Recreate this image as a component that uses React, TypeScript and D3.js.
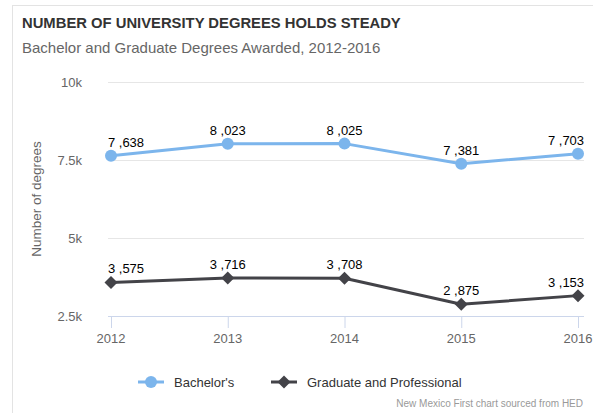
import React from "react";
import * as d3 from "d3";

const years = ["2012", "2013", "2014", "2015", "2016"];
const bachelors = [7638, 8023, 8025, 7381, 7703];
const graduate = [3575, 3716, 3708, 2875, 3153];
const bachelorLabels = ["7 ,638", "8 ,023", "8 ,025", "7 ,381", "7 ,703"];
const graduateLabels = ["3 ,575", "3 ,716", "3 ,708", "2 ,875", "3 ,153"];
const yTicks = [2500, 5000, 7500, 10000];
const yTickLabels = ["2.5k", "5k", "7.5k", "10k"];

const W = 593;
const H = 413;
const plotLeft = 108;
const plotRight = 584;
const plotTop = 82;
const plotBottom = 316;
const FONT = "'Liberation Sans', Arial, Helvetica, sans-serif";

export default function App() {
  const x = d3.scalePoint<string>().domain(years).range([111, 578]);
  const y = d3.scaleLinear().domain([2500, 10000]).range([plotBottom, plotTop]);
  const line = d3
    .line<number>()
    .x((_, i) => x(years[i]) as number)
    .y((d) => y(d));

  const clampLabel = (cx: number, w: number) =>
    Math.min(Math.max(cx, plotLeft + w / 2), plotRight - w / 2);
  const labelW = 36;

  const diamond = (cx: number, cy: number, r: number) =>
    `M${cx},${cy - r}L${cx + r},${cy}L${cx},${cy + r}L${cx - r},${cy}Z`;

  return (
    <svg
      width={W}
      height={H}
      style={{ position: "absolute", left: 0, top: 0, background: "#fff" }}
      fontFamily={FONT}
    >
      <rect x={12.5} y={5.5} width={620} height={440} fill="#fff" stroke="#e3e3e3" />
      <text x={22} y={28} fontSize={14.8} fontWeight="bold" fill="#333">
        NUMBER OF UNIVERSITY DEGREES HOLDS STEADY
      </text>
      <text x={22} y={53} fontSize={15} fill="#666">
        Bachelor and Graduate Degrees Awarded, 2012-2016
      </text>

      {/* grid */}
      {yTicks.map((t, i) => (
        <g key={t}>
          {i > 0 && (
            <line x1={plotLeft} x2={plotRight} y1={y(t) + 0.5} y2={y(t) + 0.5} stroke="#e6e6e6" />
          )}
          <text x={82} y={y(t) + 5} textAnchor="end" fontSize={13} fill="#666">
            {yTickLabels[i]}
          </text>
        </g>
      ))}

      {/* x axis */}
      <line x1={plotLeft} x2={plotRight} y1={plotBottom + 0.5} y2={plotBottom + 0.5} stroke="#ccd6eb" />
      {years.map((yr) => (
        <g key={yr}>
          <line
            x1={(x(yr) as number) + 0.5}
            x2={(x(yr) as number) + 0.5}
            y1={plotBottom}
            y2={plotBottom + 12}
            stroke="#ccd6eb"
          />
          <text x={x(yr) as number} y={343} textAnchor="middle" fontSize={13} fill="#666">
            {yr}
          </text>
        </g>
      ))}

      <text
        transform={`translate(41,${(plotTop + plotBottom) / 2}) rotate(-90)`}
        textAnchor="middle"
        fontSize={13.5}
        fill="#666"
      >
        Number of degrees
      </text>

      {/* series */}
      <path d={line(bachelors) || ""} fill="none" stroke="#7cb5ec" strokeWidth={3} strokeLinejoin="round" />
      {bachelors.map((v, i) => (
        <circle key={i} cx={x(years[i]) as number} cy={y(v)} r={6} fill="#7cb5ec" />
      ))}
      <path d={line(graduate) || ""} fill="none" stroke="#434348" strokeWidth={3} strokeLinejoin="round" />
      {graduate.map((v, i) => (
        <path key={i} d={diamond(x(years[i]) as number, y(v), 6.5)} fill="#434348" />
      ))}

      {/* data labels */}
      {bachelors.map((v, i) => (
        <text
          key={i}
          x={clampLabel(x(years[i]) as number, labelW)}
          y={y(v) - 9}
          textAnchor="middle"
          fontSize={13}
          fill="#000"
        >
          {bachelorLabels[i]}
        </text>
      ))}
      {graduate.map((v, i) => (
        <text
          key={i}
          x={clampLabel(x(years[i]) as number, labelW)}
          y={y(v) - 9}
          textAnchor="middle"
          fontSize={13}
          fill="#000"
        >
          {graduateLabels[i]}
        </text>
      ))}

      {/* legend */}
      <line x1={138} x2={164} y1={382} y2={382} stroke="#7cb5ec" strokeWidth={3} />
      <circle cx={151} cy={382} r={6} fill="#7cb5ec" />
      <text x={174} y={387} fontSize={13} fill="#333">
        Bachelor's
      </text>
      <line x1={271} x2={297} y1={382} y2={382} stroke="#434348" strokeWidth={3} />
      <path d={diamond(284, 382, 6.5)} fill="#434348" />
      <text x={307} y={387} fontSize={13} fill="#333">
        Graduate and Professional
      </text>

      <text x={583} y={407} textAnchor="end" fontSize={10} fill="#999">
        New Mexico First chart sourced from HED
      </text>
    </svg>
  );
}
